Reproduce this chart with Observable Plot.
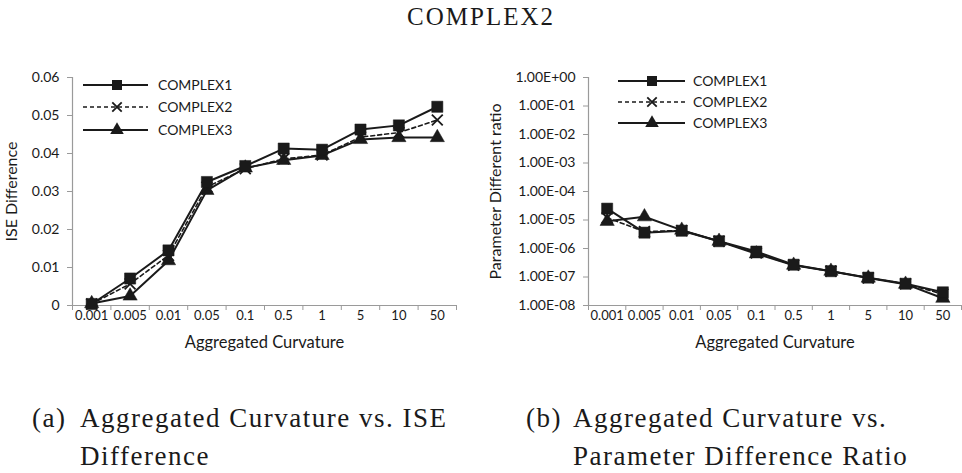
<!DOCTYPE html>
<html>
<head>
<meta charset="utf-8">
<script src="https://cdn.jsdelivr.net/npm/d3@7"></script>
<script src="https://cdn.jsdelivr.net/npm/@observablehq/plot@0.6"></script>
<style>
  html, body { margin: 0; padding: 0; background: #fff; }
  #page { position: relative; width: 962px; height: 473px; overflow: hidden; background: #fff; }
  .serif { font-family: "Liberation Serif", "DejaVu Serif", serif; color: #1a1a1a; position: absolute; white-space: nowrap; }
  #title { top: 4px; left: 0; width: 962px; text-align: center; font-size: 25px; line-height: 25px; letter-spacing: 2px; }
  .cap { font-size: 27px; line-height: 38px; letter-spacing: 1.5px; }
  .chart { position: absolute; top: 60px; }
  .legend { position: absolute; top: 0; left: 0; overflow: visible; }
</style>
</head>
<body>
<div id="page">
  <div id="title" class="serif">COMPLEX2</div>
  <div id="chartA" class="chart" style="left:0px"></div>
  <div id="chartB" class="chart" style="left:481px"></div>
  <div class="serif cap" style="left:32px; top:399px">(a)</div>
  <div class="serif cap" style="left:80px; top:399px">Aggregated Curvature vs. ISE<br>Difference</div>
  <div class="serif cap" style="left:526px; top:399px">(b)</div>
  <div class="serif cap" style="left:573px; top:399px">Aggregated Curvature vs.<br>Parameter Difference Ratio</div>
</div>
<script>
// ---- data ----
const categories = ["0.001", "0.005", "0.01", "0.05", "0.1", "0.5", "1", "5", "10", "50"];
const seriesNames = ["COMPLEX1", "COMPLEX2", "COMPLEX3"];

const iseComplex1 = [0.0004, 0.0071, 0.0145, 0.0325, 0.0367, 0.0413, 0.0410, 0.0463, 0.0474, 0.0523];
const iseComplex2 = [0.0004, 0.0057, 0.0132, 0.0312, 0.0360, 0.0386, 0.0396, 0.0443, 0.0455, 0.0488];
const iseComplex3 = [0.0005, 0.0025, 0.0118, 0.0303, 0.0362, 0.0382, 0.0395, 0.0437, 0.0442, 0.0442];

const parComplex1 = [2.5e-5, 3.6e-6, 4.2e-6, 1.8e-6, 7.8e-7, 2.7e-7, 1.6e-7, 9.5e-8, 5.8e-8, 2.9e-8];
const parComplex2 = [1.2e-5, 3.9e-6, 4.3e-6, 1.8e-6, 7.0e-7, 2.6e-7, 1.6e-7, 9.3e-8, 5.8e-8, 2.5e-8];
const parComplex3 = [9.0e-6, 1.3e-5, 4.4e-6, 1.8e-6, 6.5e-7, 2.6e-7, 1.6e-7, 9.2e-8, 5.6e-8, 1.8e-8];

const iseTicks = [0, 0.01, 0.02, 0.03, 0.04, 0.05, 0.06];
const iseTickLabels = ["0", "0.01", "0.02", "0.03", "0.04", "0.05", "0.06"];
const parTicks = [1, 1e-1, 1e-2, 1e-3, 1e-4, 1e-5, 1e-6, 1e-7, 1e-8];
const parTickLabels = ["1.00E+00", "1.00E-01", "1.00E-02", "1.00E-03", "1.00E-04", "1.00E-05", "1.00E-06", "1.00E-07", "1.00E-08"];

// ---- styles ----
const INK = "#1a1a1a";
const GRAY = "#9a9a9a";
const SANS = "Lato, 'Open Sans', sans-serif";
const seriesStyle = [
  {symbol: "square", dash: null, width: 2},
  {symbol: "times", dash: "4,3", width: 1.6},
  {symbol: "triangle", dash: null, width: 2}
];

function rows(values) { return values.map((v, i) => ({i, v})); }

function makeChart({series, yScale, ticks, tickLabels, yLabel, marginLeft, marginRight, labelOffset}) {
  const idx = d3.range(categories.length);
  const bounds = d3.range(categories.length + 1).map(i => i - 0.5);
  const yMin = yScale.domain[0];
  const marks = [
    Plot.ruleY([yMin], {stroke: GRAY, strokeWidth: 1.2}),
    Plot.ruleX([-0.5], {stroke: GRAY, strokeWidth: 1.2}),
    Plot.axisY(ticks, {tickSize: 5, tickPadding: 8, stroke: GRAY, fill: INK, fontSize: 14,
      tickFormat: d => tickLabels[ticks.indexOf(d)], label: null}),
    Plot.axisX(bounds, {tickSize: 5, stroke: GRAY, tickFormat: () => "", label: null}),
    Plot.axisX(idx, {tickSize: 0, tickPadding: 5, fill: INK, fontSize: 13,
      tickFormat: i => categories[i], label: null}),
    Plot.text([yLabel], {frameAnchor: "left", dx: -labelOffset, rotate: -90, textAnchor: "middle",
      lineAnchor: "middle", fontSize: 16, fill: INK}),
    Plot.text(["Aggregated Curvature"], {frameAnchor: "bottom", dy: 37, lineAnchor: "middle",
      textAnchor: "middle", fontSize: 16.5, fill: INK})
  ];
  // draw series 3, 2, 1 so squares are on top
  for (const k of [2, 1, 0]) {
    const data = rows(series[k]);
    const st = seriesStyle[k];
    marks.push(Plot.line(data, {x: "i", y: "v", stroke: INK, strokeWidth: st.width,
      strokeDasharray: st.dash, strokeLinejoin: "miter"}));
    if (st.symbol === "times") {
      marks.push(Plot.dot(data, {x: "i", y: "v", symbol: "times", r: 5, stroke: INK, strokeWidth: 1.8}));
    } else {
      marks.push(Plot.dot(data, {x: "i", y: "v", symbol: st.symbol, r: st.symbol === "square" ? 6.3 : 5.3, fill: INK, stroke: INK, strokeWidth: 0.5}));
    }
  }
  return Plot.plot({
    width: 481, height: 300,
    marginTop: 17, marginBottom: 55, marginLeft, marginRight,
    style: {fontFamily: SANS, background: "transparent", overflow: "visible", color: INK},
    x: {type: "linear", domain: [-0.5, categories.length - 0.5]},
    y: yScale,
    marks
  });
}

const chartA = makeChart({
  series: [iseComplex1, iseComplex2, iseComplex3],
  yScale: {type: "linear", domain: [0, 0.06]},
  ticks: iseTicks, tickLabels: iseTickLabels,
  yLabel: "ISE Difference", marginLeft: 72, marginRight: 25, labelOffset: 61
});
const chartB = makeChart({
  series: [parComplex1, parComplex2, parComplex3],
  yScale: {type: "log", domain: [1e-8, 1]},
  ticks: parTicks, tickLabels: parTickLabels,
  yLabel: "Parameter Different ratio", marginLeft: 107, marginRight: 1, labelOffset: 93
});
document.getElementById("chartA").appendChild(chartA);
document.getElementById("chartB").appendChild(chartB);

// ---- legends (inside plot areas) ----
function legend(container, x0, x1, xm, xt, ys) {
  const svg = d3.select(container).append("svg").attr("class", "legend")
    .attr("width", 481).attr("height", 300);
  seriesNames.forEach((name, k) => {
    const st = seriesStyle[k];
    const y = ys[k];
    svg.append("line").attr("x1", x0).attr("x2", x1).attr("y1", y).attr("y2", y)
      .attr("stroke", INK).attr("stroke-width", st.width).attr("stroke-dasharray", st.dash);
    if (st.symbol === "times") {
      svg.append("path").attr("d", d3.symbol(d3.symbolTimes, 60)())
        .attr("transform", `translate(${xm},${y})`).attr("stroke", INK).attr("stroke-width", 1.8).attr("fill", "none");
    } else {
      const type = st.symbol === "square" ? d3.symbolSquare : d3.symbolTriangle;
      svg.append("path").attr("d", d3.symbol(type, st.symbol === "square" ? 100 : 80)())
        .attr("transform", `translate(${xm},${y})`).attr("fill", INK);
    }
    svg.append("text").attr("x", xt).attr("y", y).attr("dy", "0.35em")
      .attr("font-family", SANS).attr("font-size", 14).attr("fill", INK).text(name);
  });
}
legend(document.getElementById("chartA"), 83, 148, 117, 158, [25, 47, 70]);
legend(document.getElementById("chartB"), 137, 204, 171, 212, [21, 42, 63]);
</script>
</body>
</html>
